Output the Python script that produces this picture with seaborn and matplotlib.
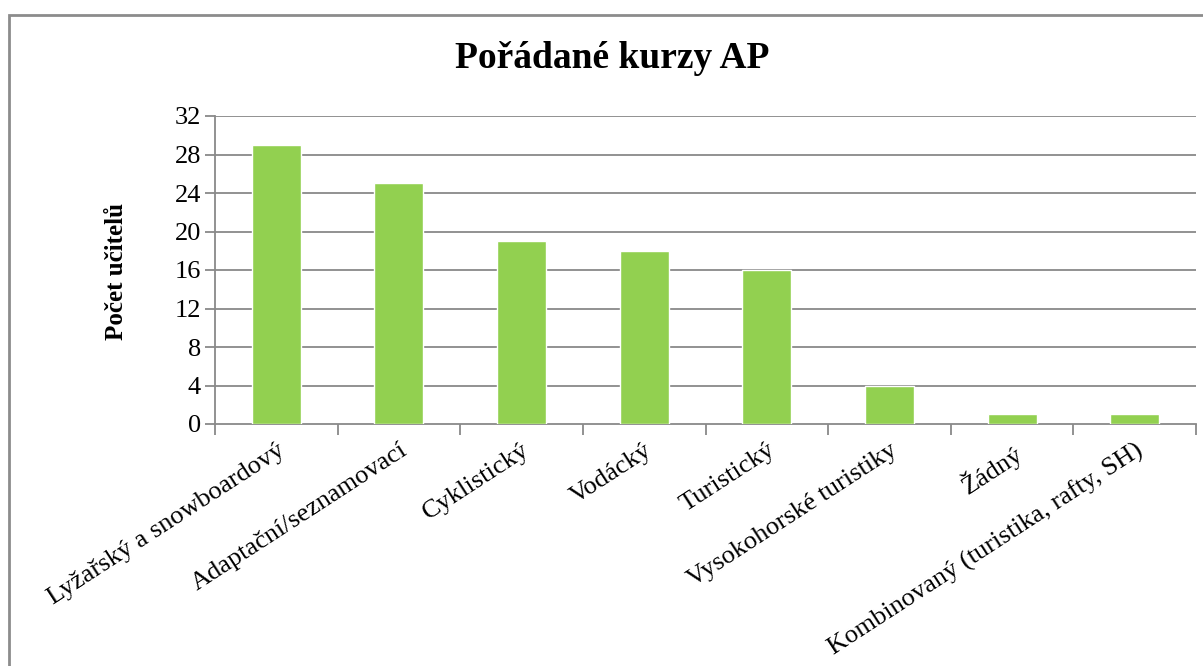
import matplotlib
matplotlib.use("Agg")
import matplotlib.pyplot as plt
import seaborn as sns
import pandas as pd
from matplotlib.patches import Rectangle

categories = ["Lyžařský a snowboardový", "Adaptační/seznamovací", "Cyklistický", "Vodácký",
              "Turistický", "Vysokohorské turistiky", "Žádný", "Kombinovaný (turistika, rafty, SH)"]
values = [29, 25, 19, 18, 16, 4, 1, 1]
yticks = [0, 4, 8, 12, 16, 20, 24, 28, 32]
title = "Pořádané kurzy AP"
ylabel = "Počet učitelů"

sns.set_theme(style="white")
plt.rcParams['font.family'] = ['Liberation Serif', 'DejaVu Serif']
plt.rcParams['text.color'] = 'black'
plt.rcParams['xtick.color'] = 'black'
plt.rcParams['ytick.color'] = 'black'
plt.rcParams['axes.labelcolor'] = 'black'

df = pd.DataFrame({"kurz": categories, "pocet": values})

fig = plt.figure(figsize=(12.03, 6.66), dpi=100)
ax = fig.add_axes([215/1203, 1-424/666, (1196-215)/1203, (424-116)/666])

grid_c = "#898989"
sns.barplot(data=df, x="kurz", y="pocet", color="#92D050", saturation=1, width=0.4, ax=ax, zorder=3)

ax.set_ylim(0, 32)
ax.set_xlim(-0.5, len(categories) - 0.5)
ax.set_yticks(yticks)
ax.set_yticklabels([str(t) for t in yticks], fontsize=19)
for y in yticks[1:]:
    ax.axhline(y, color=grid_c, lw=1.3, zorder=1)
ax.tick_params(axis='y', which='major', length=7, width=1.3, color=grid_c, labelcolor='black',
               direction='out', pad=3, left=True)

ax.set_xticks(range(len(categories)))
ax.set_xticklabels(categories, rotation=33, ha='right', rotation_mode='anchor', fontsize=19)
ax.tick_params(axis='x', which='major', length=0, pad=11, labelcolor='black')
ax.set_xticks([i - 0.5 for i in range(len(categories) + 1)], minor=True)
ax.tick_params(axis='x', which='minor', length=8, width=1.3, color=grid_c, direction='out', bottom=True)

for s in ["top", "right"]:
    ax.spines[s].set_visible(False)
for s in ["left", "bottom"]:
    ax.spines[s].set_color(grid_c)
    ax.spines[s].set_linewidth(1.3)

ax.set_xlabel("")
ax.set_ylabel(ylabel, fontsize=18, fontweight='bold')
ax.yaxis.set_label_coords((128-215)/981, (424-272)/308)
fig.text(0.509, 1-58/666, title, ha='center', va='center', fontsize=27, fontweight='bold')

fig.patches.append(Rectangle((9/1203, -0.1), 1.2, 1-15/666 + 0.1, transform=fig.transFigure,
                             fill=False, edgecolor="#8c8c8c", lw=2))

fig.savefig("out.png", dpi=100)
